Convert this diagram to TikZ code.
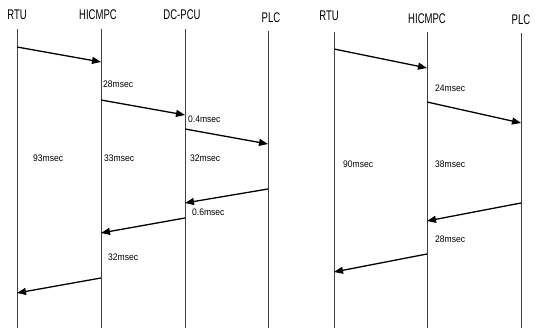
\documentclass[tikz,border=0pt]{standalone}
\usepackage{fontspec}
\newfontfamily\hdrfont[FakeStretch=0.68]{Liberation Sans}
\newfontfamily\lblfont[FakeStretch=0.9]{Liberation Sans}
\usetikzlibrary{arrows.meta}
\begin{document}
\begin{tikzpicture}[x=1pt,y=-1pt,
  hdr/.style={font=\hdrfont\fontsize{14}{15}\selectfont, inner sep=0pt},
  lbl/.style={font=\lblfont\fontsize{9.5}{10}\selectfont, inner sep=0pt, anchor=west},
  life/.style={draw=black!75, line width=0.7pt},
  msg/.style={draw=black, line width=1.3pt, -{Triangle[length=9pt,width=7pt]}}]
\useasboundingbox (0,0) rectangle (535,328);
% lifelines
\foreach \n/\x/\ty in {lr/17/29, lh/101/29, ld/185/29, lp/268/31, rr/334/32, rh/427/32, rp/521/33}{
  \coordinate (\n-top) at (\x,\ty);
  \coordinate (\n-bot) at (\x,328);
  \draw[life] (\n-top) -- (\n-bot);
}
% headers
\node[hdr] (hlr) at (17,15) {RTU};
\node[hdr] (hlh) at (98,15) {HICMPC};
\node[hdr] (hld) at (182,15) {DC-PCU};
\node[hdr] (hlp) at (271,18) {PLC};
\node[hdr] (hrr) at (329,16) {RTU};
\node[hdr] (hrh) at (427,19) {HICMPC};
\node[hdr] (hrp) at (521,20) {PLC};
% left arrows
\coordinate (a1s) at (17,47);  \coordinate (a1e) at (101,62);
\coordinate (a2s) at (101,100);\coordinate (a2e) at (185,115);
\coordinate (a3s) at (185,129);\coordinate (a3e) at (268,144);
\coordinate (a4s) at (268,189);\coordinate (a4e) at (185,203);
\coordinate (a5s) at (185,218);\coordinate (a5e) at (101,233);
\coordinate (a6s) at (101,278);\coordinate (a6e) at (17,293);
\foreach \i in {1,...,6}{\draw[msg] (a\i s) -- (a\i e);}
% right arrows
\coordinate (b1s) at (334,49); \coordinate (b1e) at (427,68);
\coordinate (b2s) at (427,102);\coordinate (b2e) at (521,123);
\coordinate (b3s) at (521,203);\coordinate (b3e) at (427,221);
\coordinate (b4s) at (427,254);\coordinate (b4e) at (334,272);
\foreach \i in {1,...,4}{\draw[msg] (b\i s) -- (b\i e);}
% labels left
\node[lbl] (t1) at (103,84) {28msec};
\node[lbl] (t2) at (188,119) {0.4msec};
\node[lbl] (t3) at (33,158) {93msec};
\node[lbl] (t4) at (104,158) {33msec};
\node[lbl] (t5) at (190,158) {32msec};
\node[lbl] (t6) at (192,212) {0.6msec};
\node[lbl] (t7) at (108,257) {32msec};
% labels right
\node[lbl] (u1) at (435,88) {24msec};
\node[lbl] (u2) at (343,164) {90msec};
\node[lbl] (u3) at (435,164) {38msec};
\node[lbl] (u4) at (435,239) {28msec};
\end{tikzpicture}
\end{document}
